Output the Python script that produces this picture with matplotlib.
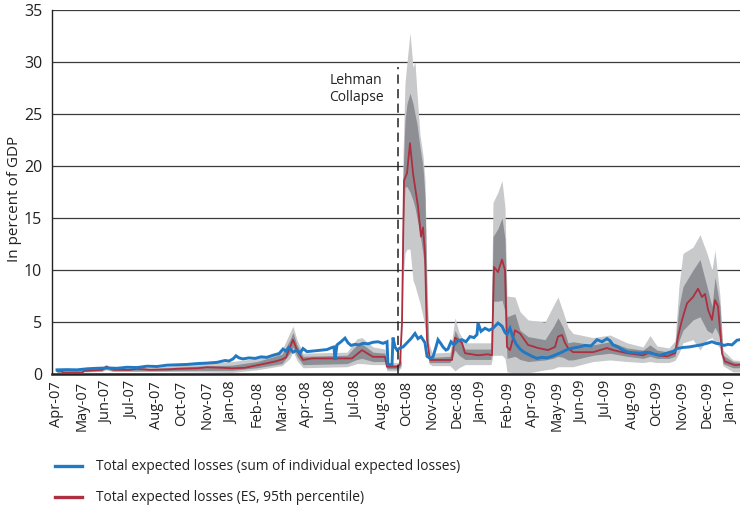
import matplotlib
matplotlib.use('Agg')
import matplotlib.pyplot as plt
from matplotlib.lines import Line2D

plt.rcParams['font.family'] = ['Open Sans', 'DejaVu Sans']

# ---------------- data ----------------
# x = trading-day index from Apr-07; one tick label every 25 observations
tick_labels = ['Apr-07', 'May-07', 'Jun-07', 'Jul-07', 'Aug-07', 'Oct-07', 'Nov-07',
               'Jan-08', 'Feb-08', 'Mar-08', 'Apr-08', 'Jun-08', 'Jul-08', 'Aug-08',
               'Oct-08', 'Nov-08', 'Dec-08', 'Jan-09', 'Feb-09', 'Apr-09', 'May-09',
               'Jun-09', 'Jul-09', 'Aug-09', 'Oct-09', 'Nov-09', 'Dec-09', 'Jan-10']
tick_step = 25
lehman_day = 341

# Total expected losses (sum of individual expected losses): (day, % of GDP)
blue_points = [
    (0, 0.40), (10, 0.42), (20, 0.40), (30, 0.50), (40, 0.55), (50, 0.58), (60, 0.55),
    (70, 0.65), (80, 0.62), (90, 0.75), (100, 0.72), (110, 0.85), (120, 0.88), (130, 0.92),
    (140, 1.00), (150, 1.05), (160, 1.12), (168, 1.30), (172, 1.25), (176, 1.45), (179, 1.75),
    (182, 1.55), (186, 1.45), (192, 1.55), (198, 1.50), (204, 1.65), (210, 1.60), (216, 1.80),
    (222, 1.95), (226, 2.40), (229, 2.20), (232, 2.55), (236, 2.10), (240, 2.30), (243, 2.00),
    (246, 2.45), (250, 2.15), (255, 2.20), (260, 2.25), (265, 2.30), (270, 2.35), (275, 2.55),
    (277, 2.60), (278, 1.35), (280, 2.80), (284, 3.10), (288, 3.45), (291, 3.00), (294, 2.75),
    (298, 2.85), (302, 2.80), (306, 2.95), (311, 2.90), (316, 3.05), (321, 3.10), (326, 2.95),
    (329, 3.05), (330, 3.10), (331, 0.90), (335, 0.90), (336, 3.50), (338, 2.60), (340, 2.30),
    (343, 2.50), (346, 2.60), (350, 3.00), (354, 3.40), (358, 3.90), (361, 3.40), (364, 3.60),
    (368, 3.00), (370, 1.70), (373, 1.50), (376, 1.65), (379, 2.60), (381, 3.30), (384, 2.90),
    (386, 2.60), (389, 2.30), (391, 2.40), (394, 3.10), (397, 2.80), (401, 3.20), (405, 3.30),
    (409, 3.10), (413, 3.60), (417, 3.50), (420, 3.80), (421, 4.90), (424, 4.10), (428, 4.40),
    (432, 4.20), (436, 4.40), (441, 4.90), (445, 4.60), (448, 4.00), (450, 3.80), (453, 4.40),
    (456, 3.50), (459, 2.90), (463, 2.40), (467, 2.10), (471, 1.90), (475, 1.70), (480, 1.50),
    (485, 1.60), (490, 1.55), (495, 1.70), (500, 1.90), (505, 2.10), (510, 2.35), (516, 2.50),
    (522, 2.60), (528, 2.75), (534, 2.70), (540, 3.30), (545, 3.10), (550, 3.40), (553, 3.20),
    (556, 2.80), (561, 2.60), (566, 2.30), (571, 2.10), (576, 2.05), (583, 2.00), (590, 2.10),
    (596, 1.95), (603, 1.80), (608, 1.95), (613, 2.10), (617, 2.20), (620, 2.45), (626, 2.55),
    (632, 2.60), (638, 2.70), (644, 2.80), (650, 2.95), (655, 3.10), (659, 2.95), (663, 2.90),
    (667, 2.75), (671, 2.85), (675, 2.80), (680, 3.25), (683, 3.30),
]

# Total expected losses (ES, 95th percentile): (day, % of GDP)
red_points = [
    (0, 0.30), (5, 0.30), (6, 0.10), (25, 0.10), (27, 0.30), (35, 0.35), (45, 0.40),
    (49, 0.70), (52, 0.60), (57, 0.40), (73, 0.40), (80, 0.50), (88, 0.45), (93, 0.40),
    (113, 0.45), (120, 0.50), (140, 0.55), (150, 0.65), (165, 0.60), (175, 0.55), (188, 0.60),
    (218, 1.20), (225, 1.40), (229, 1.60), (236, 3.30), (240, 2.30), (246, 1.35), (255, 1.50),
    (295, 1.50), (305, 2.30), (310, 2.00), (316, 1.65), (328, 1.65), (330, 0.70), (341, 0.70),
    (343, 1.00), (345, 5.00), (347, 18.6), (350, 19.3), (353, 22.2), (356, 19.3), (361, 16.1),
    (364, 13.2), (366, 14.1), (368, 11.6), (370, 3.30), (373, 1.35), (395, 1.35), (398, 3.50),
    (405, 3.00), (408, 2.00), (421, 1.80), (431, 1.90), (435, 1.80), (437, 10.3), (441, 9.80),
    (445, 11.0), (448, 10.0), (450, 2.60), (453, 2.30), (458, 4.20), (463, 3.90), (471, 2.80),
    (481, 2.50), (491, 2.30), (498, 2.60), (501, 3.60), (505, 3.75), (508, 3.00), (511, 2.50),
    (516, 2.10), (536, 2.10), (550, 2.50), (556, 2.30), (570, 2.00), (586, 1.80), (593, 2.10),
    (600, 1.80), (610, 1.70), (618, 2.00), (621, 3.60), (625, 5.20), (630, 6.80), (636, 7.40),
    (641, 8.20), (645, 7.40), (648, 7.70), (651, 6.20), (655, 5.20), (658, 7.10), (661, 6.50),
    (665, 2.00), (668, 1.20), (678, 0.85), (683, 0.90),
]

# Uncertainty bands: (day, outer low, inner low, inner high, outer high)
band_points = [
    (0, 0.10, 0.15, 0.30, 0.35), (45, 0.25, 0.30, 0.50, 0.55), (49, 0.40, 0.50, 0.80, 0.95),
    (55, 0.25, 0.30, 0.50, 0.55), (100, 0.25, 0.30, 0.55, 0.65), (140, 0.20, 0.35, 0.75, 1.00),
    (175, 0.15, 0.35, 0.85, 1.20), (200, 0.40, 0.60, 1.20, 1.50), (225, 0.80, 1.00, 1.90, 2.30),
    (233, 1.50, 2.00, 3.30, 4.00), (236, 2.20, 2.60, 4.00, 4.60), (240, 1.30, 1.70, 2.80, 3.30),
    (246, 0.60, 0.90, 1.70, 2.00), (290, 0.70, 1.00, 1.80, 2.10), (300, 1.00, 1.40, 2.80, 3.40),
    (305, 1.00, 1.50, 2.90, 3.50), (316, 0.90, 1.20, 2.10, 2.60), (328, 0.90, 1.20, 2.00, 2.40),
    (330, 0.30, 0.50, 0.90, 1.10), (341, 0.30, 0.50, 0.90, 1.10), (344, 0.60, 0.80, 1.30, 1.80),
    (346, 9.00, 13.0, 19.0, 21.0), (348, 11.6, 18.0, 24.4, 28.0), (350, 12.0, 18.0, 26.0, 30.0),
    (353, 12.0, 17.5, 27.0, 32.8), (356, 9.00, 16.7, 26.0, 29.5), (358, 8.50, 16.0, 25.0, 30.0),
    (360, 7.80, 15.0, 24.0, 27.0), (363, 6.80, 13.5, 21.8, 23.0), (366, 5.50, 11.5, 19.9, 21.0),
    (368, 4.50, 10.0, 17.0, 18.6), (370, 3.00, 4.00, 7.00, 9.00), (372, 1.00, 1.10, 1.60, 3.00),
    (375, 0.80, 1.10, 1.60, 2.00), (393, 0.80, 1.10, 1.70, 2.10), (398, 0.30, 2.30, 4.20, 5.40),
    (402, 0.60, 1.80, 3.40, 4.00), (408, 0.90, 1.40, 2.40, 3.00), (434, 0.90, 1.40, 2.40, 3.00),
    (436, 1.80, 7.00, 13.2, 16.5), (441, 1.80, 7.00, 14.0, 17.5), (445, 1.80, 7.10, 15.0, 18.6),
    (448, 1.50, 6.00, 13.0, 16.0), (450, 0.20, 1.50, 5.50, 7.50), (458, 0.10, 1.70, 5.80, 7.40),
    (463, 0.10, 1.40, 4.20, 6.00), (471, 0.10, 1.20, 3.60, 5.20), (488, 0.40, 1.35, 3.30, 5.00),
    (496, 0.50, 1.50, 4.50, 6.50), (501, 0.70, 1.70, 5.40, 7.40), (506, 0.70, 1.60, 4.50, 6.00),
    (511, 0.70, 1.35, 3.00, 4.50), (516, 0.70, 1.35, 3.10, 3.90), (536, 1.20, 1.80, 2.80, 3.50),
    (553, 1.35, 2.00, 3.10, 3.75), (570, 1.20, 1.70, 2.50, 3.00), (586, 1.10, 1.50, 2.30, 2.60),
    (593, 1.20, 1.70, 2.80, 3.70), (600, 1.10, 1.50, 2.30, 2.70), (612, 1.10, 1.50, 2.10, 2.50),
    (618, 1.30, 1.70, 2.60, 3.20), (622, 2.00, 3.20, 6.50, 8.50), (626, 3.00, 4.20, 8.40, 11.6),
    (636, 3.30, 5.20, 10.0, 12.2), (643, 2.30, 5.50, 11.0, 13.4), (650, 3.30, 4.20, 8.40, 11.6),
    (655, 3.50, 3.90, 6.50, 10.0), (658, 3.00, 4.50, 9.30, 11.9), (663, 2.50, 3.50, 6.50, 7.40),
    (666, 0.80, 1.00, 1.80, 2.30), (676, 0.20, 0.60, 1.20, 1.35), (683, 0.20, 0.60, 1.10, 1.30),
]

legend_labels = ['Total expected losses (sum of individual expected losses)',
                 'Total expected losses (ES, 95th percentile)']

# ---------------- style ----------------
BLUE = '#2179c4'
RED = '#ae2f3f'
LIGHT = '#c8c9cb'
DARK = '#8e8f94'
W, H = 740, 511

fig = plt.figure(figsize=(W / 100, H / 100), dpi=100)
ax = fig.add_axes([52 / W, (H - 374) / H, (W - 52) / W, 364 / H])

bd = [p[0] for p in band_points]
ax.fill_between(bd, [p[1] for p in band_points], [p[4] for p in band_points],
                color=LIGHT, lw=0, zorder=2)
ax.fill_between(bd, [p[2] for p in band_points], [p[3] for p in band_points],
                color=DARK, lw=0, zorder=3)
ax.plot([p[0] for p in red_points], [p[1] for p in red_points], color=RED, lw=1.3, zorder=4)
ax.plot([p[0] for p in blue_points], [p[1] for p in blue_points], color=BLUE, lw=2.1,
        zorder=5, solid_joinstyle='miter')

ax.plot([lehman_day, lehman_day], [0, 29.5], color='#222222', lw=1.1,
        dashes=(6, 3.5), zorder=6)
ax.text(lehman_day - 42, 28.9, 'Lehman\nCollapse', ha='center', va='top',
        multialignment='center', fontsize=10, color='#222222', linespacing=1.15, zorder=7)

ax.set_xlim(-5, 683)
ax.set_ylim(0, 35)
ax.set_yticks(range(0, 36, 5))
ax.set_xticks([i * tick_step for i in range(len(tick_labels))])
ax.set_xticklabels(tick_labels, rotation=90, fontsize=10.5)
ax.tick_params(axis='x', length=0, pad=5, colors='#222222')
ax.tick_params(axis='y', length=0, pad=7, labelsize=11.5, colors='#222222')
ax.yaxis.grid(True, color='#3a3a3a', lw=0.9)
ax.set_axisbelow(True)
for s in ['top', 'right']:
    ax.spines[s].set_visible(False)
ax.spines['left'].set_color('#222222')
ax.spines['left'].set_linewidth(1.0)
ax.spines['bottom'].set_color('#222222')
ax.spines['bottom'].set_linewidth(1.8)

fig.text(15 / W, 1 - 199 / H, 'In percent of GDP', rotation=90, ha='center', va='center',
         fontsize=11, color='#222222')

for k, (col, lab) in enumerate(zip([BLUE, RED], legend_labels)):
    yy = 1 - (466 + 31 * k) / H
    fig.add_artist(Line2D([55 / W, 82 / W], [yy, yy], color=col, lw=2.4))
    fig.text(96 / W, yy, lab, ha='left', va='center', fontsize=9.9, color='#222222')

fig.savefig('out.png', dpi=100)
